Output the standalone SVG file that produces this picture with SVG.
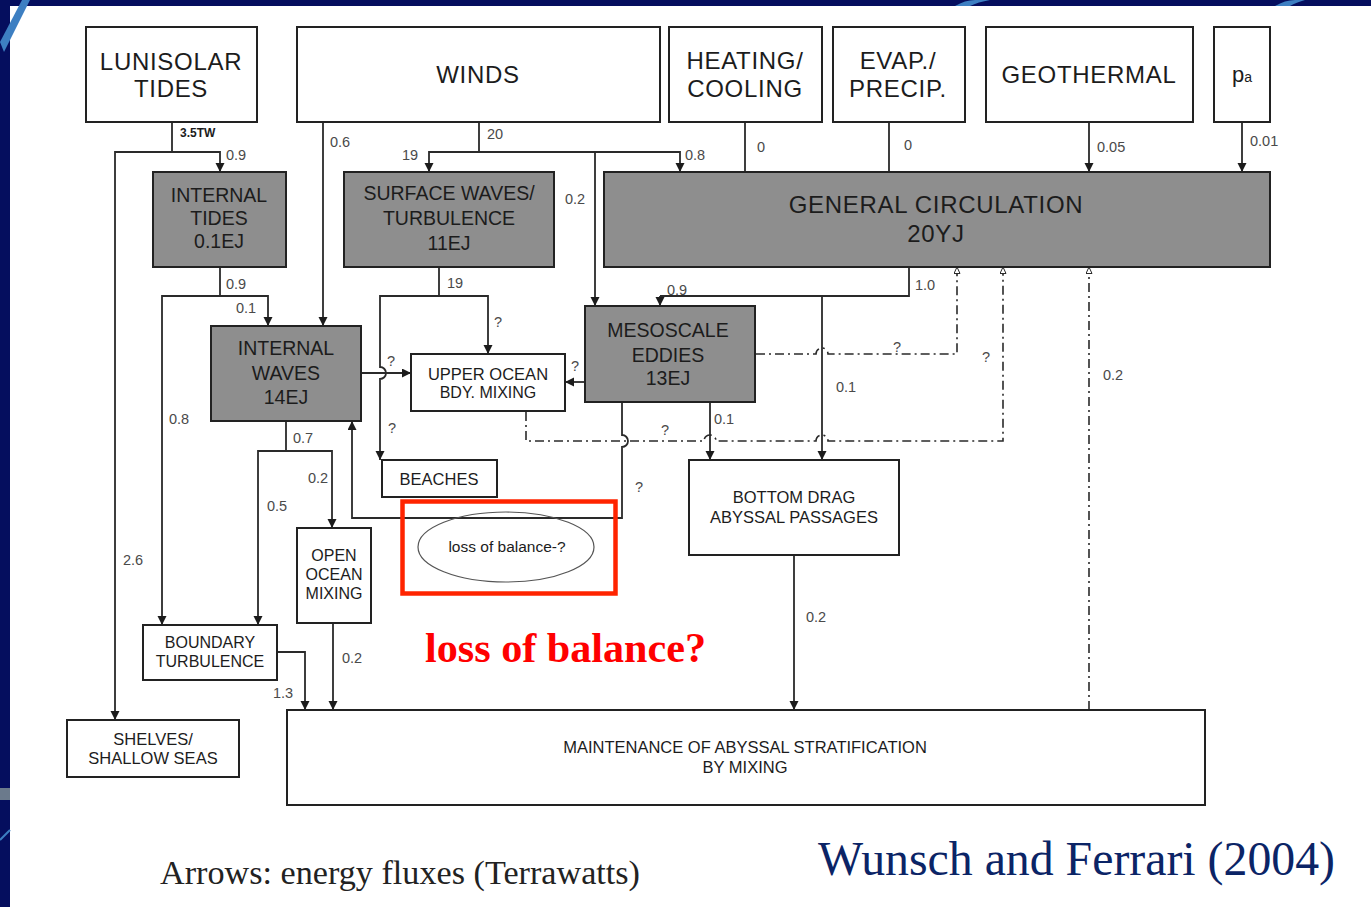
<svg xmlns="http://www.w3.org/2000/svg" width="1371" height="907" viewBox="0 0 1371 907">
<defs>
<style>
.bx{fill:#fff;stroke:#222;stroke-width:2}
.gb{fill:#8e8e8e;stroke:#222;stroke-width:2}
.ln{fill:none;stroke:#2a2a2a;stroke-width:1.8}
.ar{fill:none;stroke:#2a2a2a;stroke-width:1.8;marker-end:url(#ah)}
.dd{fill:none;stroke:#2a2a2a;stroke-width:1.6;stroke-dasharray:9 4 2 4}
.do{marker-end:url(#oh)}
.t{font-family:"Liberation Sans",Arial,sans-serif;fill:#1c1c1c;text-anchor:middle}
.big{font-size:24px;letter-spacing:0.7px}
.mid{font-size:19.5px}
.sm{font-size:16.5px}
.n{font-family:"Liberation Sans",Arial,sans-serif;font-size:14.5px;fill:#4a4a4a}
</style>
<marker id="ah" markerUnits="userSpaceOnUse" markerWidth="10" markerHeight="10" refX="9" refY="4.5" orient="auto">
<path d="M0,0 L9,4.5 L0,9 z" fill="#1c1c1c"/>
</marker>
<marker id="oh" markerUnits="userSpaceOnUse" markerWidth="10" markerHeight="10" refX="7" refY="3.5" orient="auto">
<path d="M0.5,0.5 L7,3.5 L0.5,6.5 z" fill="#fff" stroke="#2a2a2a" stroke-width="1"/>
</marker>
</defs>

<g id="background">
<rect x="0" y="0" width="1371" height="907" fill="#050e5e"/>
<rect x="10" y="6" width="1361" height="901" fill="#fff"/>
<path d="M0,42 L22,0 L30,0 L4,52 Z" fill="#3d7fc2"/>
<rect x="0" y="788" width="10" height="12" fill="#6b7a8c"/>
<path d="M0,840 L10,830" stroke="#3d7fc2" stroke-width="2"/>
<path d="M955,6 Q965,0 975,0 L990,0 Q978,2 970,6 Z" fill="#3d7fc2"/>
<path d="M1275,6 Q1285,0 1295,0 L1305,0 Q1295,3 1290,6 Z" fill="#3d7fc2"/>
</g>

<g id="connectors">
<path class="ln" d="M172,122 V152"/>
<path class="ar" d="M172,152 H220 V172"/>
<path class="ar" d="M172,152 H115 V720"/>
<path class="ln" d="M220,267 V296"/>
<path class="ar" d="M220,296 H268 V326"/>
<path class="ar" d="M220,296 H162 V625"/>
<path class="ar" d="M323,122 V326"/>
<path class="ln" d="M479,122 V152"/>
<path class="ar" d="M479,152 H429 V172"/>
<path class="ar" d="M479,152 H680 V172"/>
<path class="ar" d="M595,152 V306"/>
<path class="ln" d="M745,122 V172"/>
<path class="ln" d="M889,122 V172"/>
<path class="ar" d="M1089,122 V172"/>
<path class="ar" d="M1242,122 V172"/>
<path class="ln" d="M909,267 V296 H660"/>
<path class="ar" d="M660,296 V306"/>
<path class="ar" d="M822,296 V460"/>
<path class="ln" d="M439,267 V296"/>
<path class="ar" d="M439,296 H488 V354"/>
<path class="ar" d="M439,296 H380 V367 A6,6 0 0 1 380,379 V460"/>
<path class="ar" d="M361,373 H411"/>
<path class="ar" d="M585,382 H565"/>
<path class="ar" d="M622,402 V435 A6,6 0 0 1 622,447 V518 H352 V421"/>
<path class="ar" d="M710,402 V460"/>
<path class="dd do" d="M756,354 H816 A6,6 0 0 1 828,354 H957 V267"/>
<path class="dd do" d="M526,412 V441 H704 A6,6 0 0 1 716,441 H816 A6,6 0 0 1 828,441 H1003 V267"/>
<path class="dd do" d="M1089,710 V267"/>
<path class="ln" d="M286,421 V451"/>
<path class="ar" d="M286,451 H258 V625"/>
<path class="ar" d="M286,451 H332 V528"/>
<path class="ar" d="M277,652 H305 V710"/>
<path class="ar" d="M333,623 V710"/>
<path class="ar" d="M794,555 V710"/>
</g>

<g id="flux-labels">
<text x="180" y="137" font-family="Liberation Sans, Arial, sans-serif" font-size="12" font-weight="bold" fill="#1c1c1c">3.5TW</text>
<text class="n" x="226" y="160">0.9</text>
<text class="n" x="330" y="147">0.6</text>
<text class="n" x="487" y="139">20</text>
<text class="n" x="402" y="160">19</text>
<text class="n" x="565" y="204">0.2</text>
<text class="n" x="685" y="160">0.8</text>
<text class="n" x="757" y="152">0</text>
<text class="n" x="904" y="150">0</text>
<text class="n" x="1097" y="152">0.05</text>
<text class="n" x="1250" y="146">0.01</text>
<text class="n" x="226" y="289">0.9</text>
<text class="n" x="236" y="313">0.1</text>
<text class="n" x="447" y="288">19</text>
<text class="n" x="494" y="327">?</text>
<text class="n" x="387" y="366">?</text>
<text class="n" x="388" y="433">?</text>
<text class="n" x="571" y="371">?</text>
<text class="n" x="667" y="295">0.9</text>
<text class="n" x="915" y="290">1.0</text>
<text class="n" x="893" y="352">?</text>
<text class="n" x="982" y="362">?</text>
<text class="n" x="836" y="392">0.1</text>
<text class="n" x="714" y="424">0.1</text>
<text class="n" x="661" y="435">?</text>
<text class="n" x="635" y="492">?</text>
<text class="n" x="1103" y="380">0.2</text>
<text class="n" x="169" y="424">0.8</text>
<text class="n" x="293" y="443">0.7</text>
<text class="n" x="308" y="483">0.2</text>
<text class="n" x="267" y="511">0.5</text>
<text class="n" x="123" y="565">2.6</text>
<text class="n" x="273" y="698">1.3</text>
<text class="n" x="342" y="663">0.2</text>
<text class="n" x="806" y="622">0.2</text>
</g>

<g id="lunisolar-tides"><rect class="bx" x="86" y="27" width="171" height="95"/>
<text class="t big" x="171" y="70">LUNISOLAR</text><text class="t big" x="171" y="97">TIDES</text></g>
<g id="winds"><rect class="bx" x="297" y="27" width="363" height="95"/>
<text class="t big" x="478" y="83">WINDS</text></g>
<g id="heating-cooling"><rect class="bx" x="669" y="27" width="153" height="95"/>
<text class="t big" x="745" y="69">HEATING/</text><text class="t big" x="745" y="97">COOLING</text></g>
<g id="evap-precip"><rect class="bx" x="833" y="27" width="132" height="95"/>
<text class="t big" x="898" y="69">EVAP./</text><text class="t big" x="898" y="97">PRECIP.</text></g>
<g id="geothermal"><rect class="bx" x="986" y="27" width="207" height="95"/>
<text class="t big" x="1089" y="83">GEOTHERMAL</text></g>
<g id="pa"><rect class="bx" x="1214" y="27" width="56" height="95"/>
<text class="t" x="1242" y="82" font-size="22">p<tspan font-size="14">a</tspan></text></g>

<g id="general-circulation"><rect class="gb" x="604" y="172" width="666" height="95"/>
<text class="t big" x="936" y="213">GENERAL CIRCULATION</text><text class="t big" x="936" y="242">20YJ</text></g>
<g id="internal-tides"><rect class="gb" x="153" y="172" width="133" height="95"/>
<text class="t mid" x="219" y="202">INTERNAL</text><text class="t mid" x="219" y="225">TIDES</text><text class="t mid" x="219" y="248">0.1EJ</text></g>
<g id="surface-waves"><rect class="gb" x="344" y="172" width="210" height="95"/>
<text class="t mid" x="449" y="200">SURFACE WAVES/</text><text class="t mid" x="449" y="225">TURBULENCE</text><text class="t mid" x="449" y="250">11EJ</text></g>
<g id="internal-waves"><rect class="gb" x="211" y="326" width="150" height="95"/>
<text class="t mid" x="286" y="355">INTERNAL</text><text class="t mid" x="286" y="380">WAVES</text><text class="t mid" x="286" y="404">14EJ</text></g>
<g id="mesoscale-eddies"><rect class="gb" x="585" y="306" width="170" height="96"/>
<text class="t mid" x="668" y="337">MESOSCALE</text><text class="t mid" x="668" y="362">EDDIES</text><text class="t mid" x="668" y="385">13EJ</text></g>
<g id="upper-ocean"><rect class="bx" x="411" y="354" width="154" height="57"/>
<text class="t" font-size="16.5" x="488" y="380">UPPER OCEAN</text><text class="t" font-size="16" x="488" y="398">BDY. MIXING</text></g>
<g id="beaches"><rect class="bx" x="382" y="460" width="115" height="37"/>
<text class="t" font-size="16.5" x="439" y="485">BEACHES</text></g>
<g id="loss-of-balance"><ellipse cx="506" cy="547" rx="88" ry="35" fill="none" stroke="#555" stroke-width="1.2"/>
<text class="t" font-size="15.5" fill="#333" x="507" y="552">loss of balance-?</text></g>
<g id="highlight"><rect x="402.5" y="501.5" width="213" height="92" fill="none" stroke="#ff2400" stroke-width="4.5"/>
<text x="425" y="662" font-family="Liberation Serif, Times New Roman, serif" font-size="42" font-weight="bold" fill="#ff0000" textLength="281" lengthAdjust="spacingAndGlyphs">loss of balance?</text></g>
<g id="open-ocean-mixing"><rect class="bx" x="297" y="528" width="74" height="95"/>
<text class="t" font-size="16" x="334" y="561">OPEN</text><text class="t" font-size="16" x="334" y="580">OCEAN</text><text class="t" font-size="16" x="334" y="599">MIXING</text></g>
<g id="boundary-turbulence"><rect class="bx" x="143" y="625" width="134" height="55"/>
<text class="t" font-size="16" x="210" y="648">BOUNDARY</text><text class="t" font-size="16" x="210" y="667">TURBULENCE</text></g>
<g id="shelves"><rect class="bx" x="67" y="720" width="172" height="57"/>
<text class="t" font-size="16.5" x="153" y="745">SHELVES/</text><text class="t" font-size="16.5" x="153" y="764">SHALLOW SEAS</text></g>
<g id="bottom-drag"><rect class="bx" x="689" y="460" width="210" height="95"/>
<text class="t" font-size="16.5" x="794" y="503">BOTTOM DRAG</text><text class="t" font-size="16.5" x="794" y="523">ABYSSAL PASSAGES</text></g>
<g id="maintenance"><rect class="bx" x="287" y="710" width="918" height="95"/>
<text class="t" font-size="16.5" x="745" y="753">MAINTENANCE OF ABYSSAL STRATIFICATION</text><text class="t" font-size="16.5" x="745" y="773">BY MIXING</text></g>

<g id="captions">
<text x="160" y="884" font-family="Liberation Serif, Times New Roman, serif" font-size="33" fill="#222" textLength="480" lengthAdjust="spacingAndGlyphs">Arrows: energy fluxes (Terrawatts)</text>
<text x="818" y="875" font-family="Liberation Serif, Times New Roman, serif" font-size="48" fill="#0b2466" textLength="517" lengthAdjust="spacingAndGlyphs">Wunsch and Ferrari (2004)</text>
</g>
</svg>
